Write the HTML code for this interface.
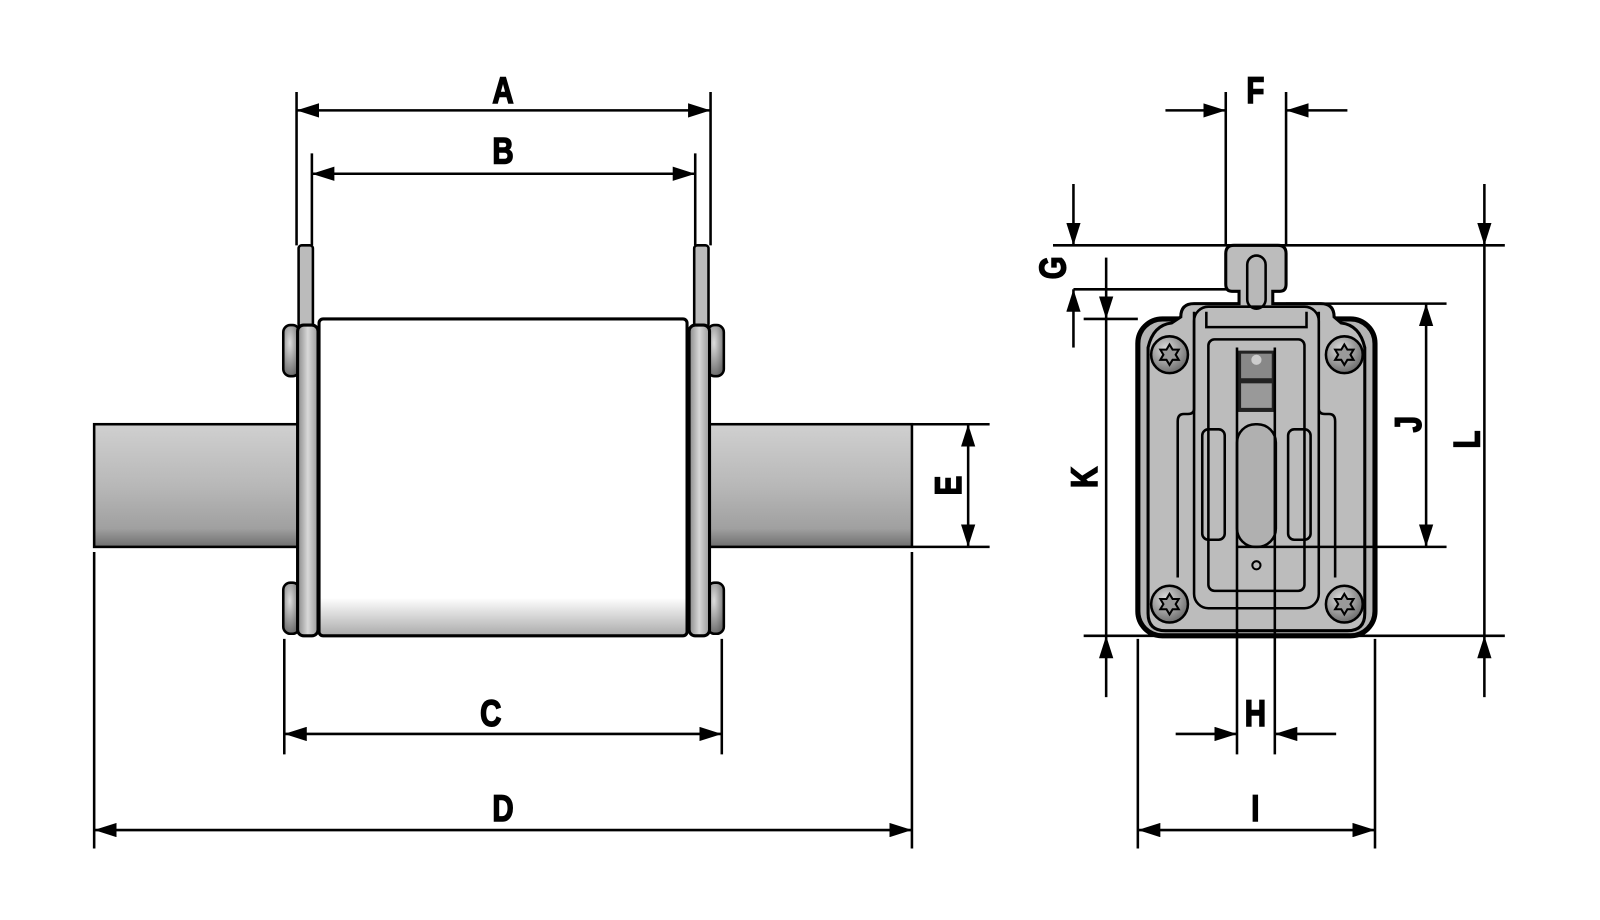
<!DOCTYPE html>
<html><head><meta charset="utf-8"><style>html,body{margin:0;padding:0;background:#fff;}svg{display:block}</style></head>
<body>
<svg width="1600" height="920" viewBox="0 0 1565 900" xmlns="http://www.w3.org/2000/svg">
<defs>
<marker id="ar" viewBox="0 0 22 14" refX="22" refY="7" markerWidth="22" markerHeight="14" markerUnits="userSpaceOnUse" orient="auto-start-reverse"><path d="M0,0 L22,7 L0,14 Z" fill="#000"/></marker>
<linearGradient id="bar" x1="0" y1="0" x2="0" y2="1"><stop offset="0" stop-color="#d0d0d0"/><stop offset="0.5" stop-color="#b8b8b8"/><stop offset="0.85" stop-color="#a0a0a0"/><stop offset="1" stop-color="#6e6e6e"/></linearGradient>
<linearGradient id="body" x1="0" y1="0" x2="0" y2="1"><stop offset="0" stop-color="#fff"/><stop offset="0.88" stop-color="#fff"/><stop offset="1" stop-color="#aaa"/></linearGradient>
<linearGradient id="pl" x1="0" y1="0" x2="1" y2="0"><stop offset="0" stop-color="#888"/><stop offset="0.5" stop-color="#d8d8d8"/><stop offset="1" stop-color="#999"/></linearGradient>
<radialGradient id="bolt" cx="0.4" cy="0.35" r="0.7"><stop offset="0" stop-color="#ddd"/><stop offset="1" stop-color="#666"/></radialGradient>
</defs>
<style>
.l{stroke:#000;stroke-width:2.5;fill:none}
.t{font-family:"Liberation Sans",sans-serif;font-weight:bold;font-size:36px;text-anchor:middle;stroke:#000;stroke-width:1.5}
</style>

<!-- LEFT VIEW -->
<rect x="92" y="415" width="200" height="120" fill="url(#bar)" stroke="#000" stroke-width="2.5"/>
<rect x="692" y="415" width="200" height="120" fill="url(#bar)" stroke="#000" stroke-width="2.5"/>
<rect x="292" y="240" width="14" height="80" rx="3" fill="#bbb" stroke="#000" stroke-width="2.5"/>
<rect x="679" y="240" width="14" height="80" rx="3" fill="#bbb" stroke="#000" stroke-width="2.5"/>
<rect x="277" y="318" width="16" height="50" rx="7" fill="url(#bolt)" stroke="#000" stroke-width="2.5"/>
<rect x="277" y="570" width="16" height="50" rx="7" fill="url(#bolt)" stroke="#000" stroke-width="2.5"/>
<rect x="692" y="318" width="16" height="50" rx="7" fill="url(#bolt)" stroke="#000" stroke-width="2.5"/>
<rect x="692" y="570" width="16" height="50" rx="7" fill="url(#bolt)" stroke="#000" stroke-width="2.5"/>
<rect x="291" y="318" width="20" height="304" rx="6" fill="url(#pl)" stroke="#000" stroke-width="3"/>
<rect x="674" y="318" width="20" height="304" rx="6" fill="url(#pl)" stroke="#000" stroke-width="3"/>
<rect x="312" y="312" width="360" height="310" rx="4" fill="url(#body)" stroke="#000" stroke-width="3"/>

<path class="l" d="M290 90V240 M695 90V240 M305 150V240 M680 150V240 M278 625V738 M706 625V738 M92 540V830 M892 540V830 M893 415H968 M893 535H968"/>
<line class="l" x1="290" y1="108" x2="695" y2="108" marker-start="url(#ar)" marker-end="url(#ar)"/>
<line class="l" x1="305" y1="170" x2="680" y2="170" marker-start="url(#ar)" marker-end="url(#ar)"/>
<line class="l" x1="278" y1="718" x2="706" y2="718" marker-start="url(#ar)" marker-end="url(#ar)"/>
<line class="l" x1="92" y1="812" x2="892" y2="812" marker-start="url(#ar)" marker-end="url(#ar)"/>
<line class="l" x1="947" y1="415" x2="947" y2="535" marker-start="url(#ar)" marker-end="url(#ar)"/>
<g class="t">
<text x="492" y="101" transform="translate(492 0) scale(0.8 1) translate(-492 0)">A</text>
<text x="492" y="160" transform="translate(492 0) scale(0.8 1) translate(-492 0)">B</text>
<text x="480" y="710" transform="translate(480 0) scale(0.8 1) translate(-480 0)">C</text>
<text x="492" y="803" transform="translate(492 0) scale(0.8 1) translate(-492 0)">D</text>
<text transform="translate(940 475) rotate(-90) scale(0.8 1)">E</text>
</g>

<!-- RIGHT VIEW -->
<rect x="1113" y="312" width="232" height="310" rx="24" fill="#b4b4b4" stroke="#000" stroke-width="5"/>
<path d="M1155 310 Q1155 297 1168 297 H1212 V285 H1205 Q1199 285 1199 278 V248 Q1199 240 1207 240 H1250 Q1258 240 1258 248 V278 Q1258 285 1252 285 H1245 V297 H1292 Q1305 297 1305 310 L1312 316 Q1330 318 1335 340 V600 Q1335 617 1318 617 H1140 Q1123 617 1123 600 V340 Q1128 318 1146 316 Z" fill="#bcbcbc" stroke="#000" stroke-width="3"/>
<rect x="1220" y="250" width="18" height="52" rx="9" fill="#b8b8b8" stroke="#000" stroke-width="2.5"/>
<path class="l" d="M1168 305 V400 Q1168 405 1162 405 H1158 Q1152 405 1152 412 V565 M1290 305 V400 Q1290 405 1296 405 H1300 Q1306 405 1306 412 V565 M1180 305V320 H1278V305"/>
<rect x="1182" y="332" width="94" height="246" rx="6" class="l"/>
<rect x="1168" y="300" width="122" height="295" rx="14" class="l"/>
<rect x="1176" y="420" width="22" height="108" rx="6" class="l"/>
<rect x="1260" y="420" width="22" height="108" rx="6" class="l"/>
<rect x="1210" y="415" width="38" height="120" rx="18" fill="#b0b0b0" stroke="#000" stroke-width="2.5"/>
<rect x="1210" y="343" width="38" height="60" fill="#222"/>
<rect x="1214" y="346" width="30" height="24" fill="#888"/>
<rect x="1214" y="375" width="30" height="24" fill="#999"/>
<circle cx="1229" cy="352" r="5" fill="#ccc"/>
<circle cx="1229" cy="553" r="4" fill="none" stroke="#000" stroke-width="2"/>
<g fill="url(#bolt)" stroke="#000" stroke-width="2.5">
<circle cx="1144" cy="347" r="18"/><circle cx="1315" cy="347" r="18"/>
<circle cx="1144" cy="591" r="18"/><circle cx="1315" cy="591" r="18"/>
</g>
<g fill="#999" stroke="#000" stroke-width="2">
<path transform="translate(1144 347)" d="M0-10 L3-5 9-5 6 0 9 5 3 5 0 10 -3 5 -9 5 -6 0 -9 -5 -3 -5Z"/>
<path transform="translate(1315 347)" d="M0-10 L3-5 9-5 6 0 9 5 3 5 0 10 -3 5 -9 5 -6 0 -9 -5 -3 -5Z"/>
<path transform="translate(1144 591)" d="M0-10 L3-5 9-5 6 0 9 5 3 5 0 10 -3 5 -9 5 -6 0 -9 -5 -3 -5Z"/>
<path transform="translate(1315 591)" d="M0-10 L3-5 9-5 6 0 9 5 3 5 0 10 -3 5 -9 5 -6 0 -9 -5 -3 -5Z"/>
</g>

<path class="l" d="M1199 90V240 M1258 90V240 M1030 240H1472 M1050 283H1200 M1060 312H1113 M1060 622H1472 M1258 297H1415 M1210 535H1415 M1210 340V738 M1247 340V738 M1113 625V830 M1345 625V830"/>
<line class="l" x1="1140" y1="108" x2="1199" y2="108" marker-end="url(#ar)"/>
<line class="l" x1="1318" y1="108" x2="1258" y2="108" marker-end="url(#ar)"/>
<line class="l" x1="1050" y1="180" x2="1050" y2="240" marker-end="url(#ar)"/>
<line class="l" x1="1050" y1="340" x2="1050" y2="283" marker-end="url(#ar)"/>
<line class="l" x1="1082" y1="252" x2="1082" y2="312" marker-end="url(#ar)"/>
<line class="l" x1="1082" y1="312" x2="1082" y2="622"/>
<line class="l" x1="1082" y1="682" x2="1082" y2="622" marker-end="url(#ar)"/>
<line class="l" x1="1395" y1="297" x2="1395" y2="535" marker-start="url(#ar)" marker-end="url(#ar)"/>
<line class="l" x1="1452" y1="180" x2="1452" y2="240" marker-end="url(#ar)"/>
<line class="l" x1="1452" y1="240" x2="1452" y2="622"/>
<line class="l" x1="1452" y1="682" x2="1452" y2="622" marker-end="url(#ar)"/>
<line class="l" x1="1150" y1="718" x2="1210" y2="718" marker-end="url(#ar)"/>
<line class="l" x1="1307" y1="718" x2="1247" y2="718" marker-end="url(#ar)"/>
<line class="l" x1="1113" y1="812" x2="1345" y2="812" marker-start="url(#ar)" marker-end="url(#ar)"/>
<g class="t">
<text x="1228" y="101" transform="translate(1228 0) scale(0.8 1) translate(-1228 0)">F</text>
<text x="1228" y="710" transform="translate(1228 0) scale(0.8 1) translate(-1228 0)">H</text>
<text x="1228" y="803" transform="translate(1228 0) scale(0.8 1) translate(-1228 0)">I</text>
<text transform="translate(1042 262) rotate(-90) scale(0.8 1)">G</text>
<text transform="translate(1073 467) rotate(-90) scale(0.8 1)">K</text>
<text transform="translate(1390 415) rotate(-90) scale(0.8 1)">J</text>
<text transform="translate(1447 430) rotate(-90) scale(0.8 1)">L</text>
</g>
</svg>
</body></html>
